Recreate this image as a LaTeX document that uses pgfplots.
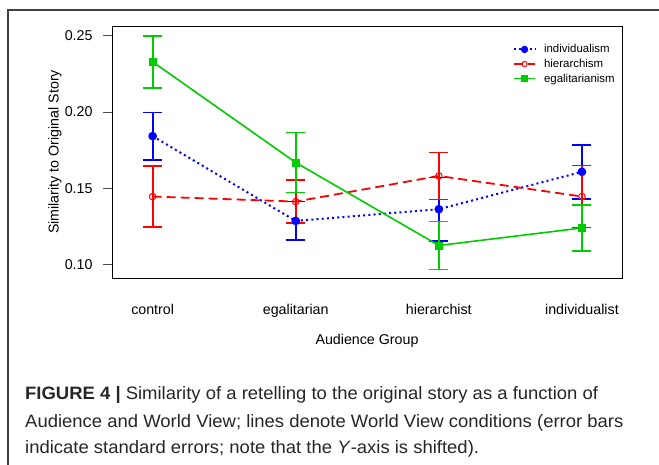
\documentclass[border=0pt]{standalone}
\usepackage{fontspec}
\setmainfont{Liberation Sans}
\newfontfamily\capfont[FakeStretch=1.03]{Liberation Sans}
\usepackage{pgfplots}
\pgfplotsset{compat=1.18}
\definecolor{rblue}{RGB}{0,0,255}
\definecolor{rred}{RGB}{255,0,0}
\definecolor{rgreen}{RGB}{0,205,0}
\begin{document}
\begin{tikzpicture}
\useasboundingbox (0,0) rectangle (659bp,465bp);
\draw[line width=1.2bp, black!75] (8bp,0) -- (8bp,455bp) -- (659bp,455bp);
\begin{axis}[
  at={(112bp,187bp)}, anchor=south west,
  width=510bp, height=252bp, scale only axis,
  xmin=-0.284, xmax=3.28, ymin=0.0912, ymax=0.2564,
  xtick={0,1,2,3}, xticklabels={control,egalitarian,hierarchist,individualist},
  xtick style={draw=none},
  ytick={0.10,0.15,0.20,0.25},
  ytick pos=left,
  yticklabel style={xshift=-7bp, /pgf/number format/.cd, fixed, fixed zerofill, precision=2},
  /pgf/number format/assume math mode=true,
  tick align=outside, major tick length=9bp,
  ytick style={line width=0.8bp, black!70},
  axis line style={line width=0.9bp},
  tick label style={font=\fontsize{14.3}{17}\selectfont},
  label style={font=\fontsize{14.3}{17}\selectfont},
  xticklabel style={yshift=-14bp},
  xlabel={Audience Group}, ylabel={Similarity to Original Story},
  xlabel style={at={(axis description cs:0.5,-0.25)}, anchor=center},
  ylabel style={at={(axis description cs:-0.1118,0.5)}, anchor=center},
  legend style={at={(axis description cs:0.786,0.935)}, anchor=north west, draw=none, fill=none,
    font=\fontsize{11.5}{13}\selectfont, row sep=0.8bp, inner sep=0pt,
    /tikz/every odd column/.append style={column sep=6bp}},
  legend image code/.code={\draw[mark repeat=2,mark phase=2] plot coordinates {(0bp,0bp) (10.5bp,0bp) (21bp,0bp)};},
  legend image post style={mark size=2.6bp},
  legend cell align=left,
]
\addplot[rblue, line width=2bp, dash pattern=on 2bp off 3.2bp, mark=*, mark size=3.3bp,
  mark options={solid, fill=rblue},
  error bars/.cd, y dir=both, y explicit,
  error bar style={solid, line width=1.8bp},
  error mark options={solid, rotate=90, line width=1.8bp, mark size=9.5bp}]
coordinates {
(0,0.1842) +- (0,0.0155)
(1,0.1286) +- (0,0.0127)
(2,0.1363) +- (0,0.0208)
(3,0.1608) +- (0,0.0176)
};
\addlegendentry{individualism}
\addplot[rred, line width=1.8bp, dash pattern=on 9bp off 5bp, mark=o, mark size=3.3bp,
  mark options={solid, fill=white, line width=1bp},
  error bars/.cd, y dir=both, y explicit,
  error bar style={solid, line width=1.8bp},
  error mark options={solid, rotate=90, line width=1.8bp, mark size=9.5bp}]
coordinates {
(0,0.1446) +- (0,0.0199)
(1,0.1413) +- (0,0.0140)
(2,0.1581) +- (0,0.0154)
(3,0.1446) +- (0,0.0203)
};
\addlegendentry{hierarchism}
\addplot[rgreen, line width=1.6bp, mark=square*, mark size=3.2bp,
  mark options={solid, fill=rgreen},
  error bars/.cd, y dir=both, y explicit,
  error bar style={solid, line width=1.8bp},
  error mark options={solid, rotate=90, line width=1.8bp, mark size=9.5bp}]
coordinates {
(0,0.2329) +- (0,0.0171)
(1,0.1669) +- (0,0.0197)
(2,0.1125) +- (0,0.0157)
(3,0.1240) +- (0,0.0151)
};
\addlegendentry{egalitarianism}
\end{axis}
\begin{scope}[every node/.style={anchor=base west, inner sep=0pt, font=\capfont\fontsize{18}{20}\selectfont, text=black!85}]
\node at (25bp,65bp) {\textbf{FIGURE 4 |} Similarity of a retelling to the original story as a function of};
\node at (25bp,38bp) {Audience and World View; lines denote World View conditions (error bars};
\node at (25bp,12bp) {indicate standard errors; note that the \textit{Y}-axis is shifted).};
\end{scope}
\end{tikzpicture}
\end{document}
